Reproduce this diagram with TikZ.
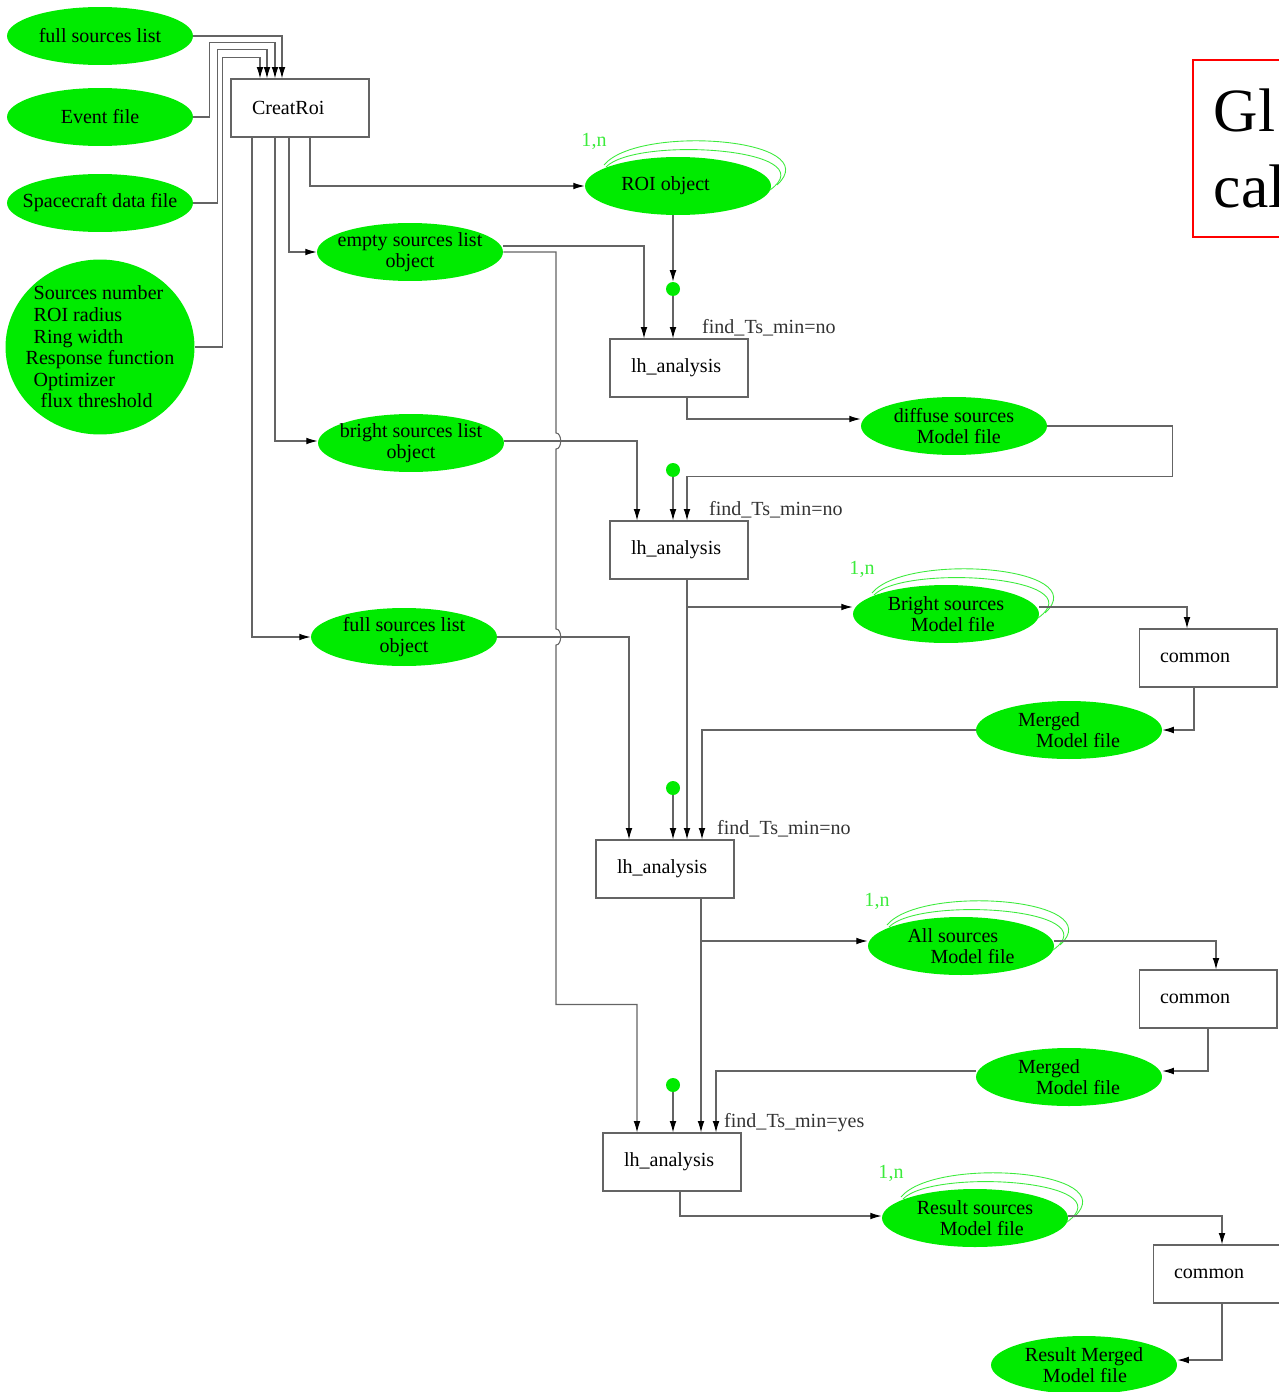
\documentclass[tikz,border=0pt]{standalone}
\usepackage{fontspec}
\setmainfont{Liberation Serif}
\usetikzlibrary{shapes.geometric,arrows.meta}
\definecolor{nodegreen}{RGB}{0,235,0}
\definecolor{loopgreen}{RGB}{60,235,60}
\definecolor{edgegray}{RGB}{100,100,100}
\tikzset{
  every node/.style={font=\fontsize{11.4}{12.3}\selectfont},
  datafile/.style={ellipse, fill=nodegreen, minimum width=3.72cm, minimum height=1.16cm, inner xsep=-0.3cm, inner ysep=-0.1cm, align=center},
  procbox/.style={draw=edgegray, line width=0.6pt, minimum width=2.76cm, minimum height=1.16cm, text width=1.92cm, inner xsep=0.42cm, align=left},
  flow/.style={draw=edgegray, line width=0.6pt, -{Latex[length=6.5pt,width=3.8pt,color=black]}},
  gdot/.style={circle, fill=nodegreen, inner sep=0pt, minimum size=0.28cm},
  mult/.style={text=loopgreen},
  loopline/.style={draw=loopgreen, line width=0.5pt},
  tslabel/.style={anchor=base west, text=black!80},
  note/.style={draw=red, line width=1.1pt, font=\fontsize{35}{43}\selectfont, text width=4cm, inner xsep=0.42cm, align=left, minimum height=3.54cm}
}
\begin{document}
\begin{tikzpicture}[x=0.02cm,y=-0.02cm]
\useasboundingbox (0,0) rectangle (1278,1392);
% inputs
\node[datafile] (fsl) at (100,36) {full sources list};
\node[datafile] (ev) at (100,117) {Event file};
\node[datafile] (sc) at (100,203) {Spacecraft data file};
\node[datafile, minimum width=3.78cm, minimum height=3.5cm, align=left] (par) at (100,347) {\hspace*{0.16cm}Sources number\\\hspace*{0.16cm}ROI radius\\\hspace*{0.16cm}Ring width\\Response function\\\hspace*{0.16cm}Optimizer\\\hspace*{0.3cm}flux threshold};
\node[procbox] (creat) at (300,108) {CreatRoi};
% objects
\node[datafile] (roi) at (678,186) {ROI object\hspace*{0.5cm}};
\node[datafile] (esl) at (410,252) {empty sources list\\object};
\node[datafile] (bsl) at (411,443) {bright sources list\\object};
\node[datafile] (fslo) at (404,637) {full sources list\\object};
% analysis chain
\node[gdot] (dot1) at (673,289) {};
\node[procbox] (lh1) at (679,368) {lh\_analysis};
\node[datafile, align=left] (diff) at (954,426) {diffuse sources\\\hspace*{0.46cm}Model file};
\node[gdot] (dot2) at (673,470) {};
\node[procbox] (lh2) at (679,550) {lh\_analysis};
\node[datafile, align=left] (bsmf) at (946,614) {Bright sources\\\hspace*{0.46cm}Model file};
\node[procbox] (com1) at (1208,658) {common};
\node[datafile, align=left] (mer1) at (1069,730) {Merged\\\hspace*{0.36cm}Model file};
\node[gdot] (dot3) at (673,788) {};
\node[procbox] (lh3) at (665,869) {lh\_analysis};
\node[datafile, align=left] (asmf) at (961,946) {All sources\\\hspace*{0.46cm}Model file};
\node[procbox] (com2) at (1208,999) {common};
\node[datafile, align=left] (mer2) at (1069,1077) {Merged\\\hspace*{0.36cm}Model file};
\node[gdot] (dot4) at (673,1085) {};
\node[procbox] (lh4) at (672,1162) {lh\_analysis};
\node[datafile, align=left] (rsmf) at (975,1218) {Result sources\\\hspace*{0.46cm}Model file};
\node[procbox] (com3) at (1222,1274) {common};
\node[datafile, align=left] (rmer) at (1084,1365) {Result Merged\\\hspace*{0.36cm}Model file};
% edge labels
\node[tslabel] (ts1) at ([shift={(17,-5)}]lh1.north) {find\_Ts\_min=no};
\node[tslabel] (ts2) at ([shift={(24,-5)}]lh2.north) {find\_Ts\_min=no};
\node[tslabel] (ts3) at ([shift={(46,-5)}]lh3.north) {find\_Ts\_min=no};
\node[tslabel] (ts4) at ([shift={(46,-5)}]lh4.north) {find\_Ts\_min=yes};
% repeated models
\foreach \n in {roi,bsmf,asmf,rsmf} {
  \draw[loopline, shift={(\n.center)}] (-74,-21) .. controls (-40,-62) and (150,-48) .. (99,-1);
  \draw[loopline, shift={(\n.center)}] (-72,-19) .. controls (-42,-50) and (150,-38) .. (92,4);
  \node[mult] (\n-rep) at ([shift={(-84,-45)}]\n.center) {1,n};
}
% inputs to CreatRoi
\draw[flow] (fsl.east) -| ([shift={(-18,0)}]creat.north);
\draw[flow] (ev.east) -- ++(16,0) |- ([shift={(-25,-36)}]creat.north) -- ([shift={(-25,0)}]creat.north);
\draw[flow] (sc.east) -- ++(24,0) |- ([shift={(-33,-29)}]creat.north) -- ([shift={(-33,0)}]creat.north);
\draw[flow] (par.east) -- ++(28,0) |- ([shift={(-40,-21)}]creat.north) -- ([shift={(-40,0)}]creat.north);
% CreatRoi outputs
\draw[flow] ([shift={(-48,0)}]creat.south) |- (fslo.west);
\draw[flow] ([shift={(-25,0)}]creat.south) |- ([shift={(0,-2)}]bsl.west);
\draw[flow] ([shift={(-11,0)}]creat.south) |- (esl.west);
\draw[flow] ([shift={(10,0)}]creat.south) |- (roi.west);
% first pass
\draw[flow] (dot1 |- roi.south) -- (dot1.north);
\draw[flow] (dot1.south) -- (dot1.south |- lh1.north);
\draw[flow] ([shift={(0,-6)}]esl.east) -| ([shift={(-35,0)}]lh1.north);
\coordinate (hopa) at (556,441);
\coordinate (hopb) at (556,637);
\draw[flow] (esl.east) -| ([shift={(0,-8)}]hopa) to[out=0,in=0] ([shift={(0,8)}]hopa)
  -- ([shift={(0,-8)}]hopb) to[out=0,in=0] ([shift={(0,8)}]hopb)
  |- ([shift={(-35,-128)}]lh4.north) -- ([shift={(-35,0)}]lh4.north);
\draw[flow] ([shift={(8,0)}]lh1.south) |- ([shift={(0,-7)}]diff.west);
% second pass
\draw[flow] ([shift={(0,-2)}]bsl.east) -| ([shift={(-42,0)}]lh2.north);
\draw[flow] (dot2.south) -- (dot2.south |- lh2.north);
\draw[flow] (diff.east) -- ++(125,0) |- ([shift={(8,-44)}]lh2.north) -- ([shift={(8,0)}]lh2.north);
\draw[flow] ([shift={(8,0)}]lh2.south) |- ([shift={(0,-7)}]bsmf.west);
\draw[flow] ([shift={(0,-7)}]bsmf.east) -| ([shift={(-21,0)}]com1.north);
\draw[flow] ([shift={(-14,0)}]com1.south) |- (mer1.east);
% third pass
\draw[flow] ([shift={(8,0)}]lh2.south) -- ([shift={(22,0)}]lh3.north);
\draw[flow] (fslo.east) -| ([shift={(-36,0)}]lh3.north);
\draw[flow] (dot3.south) -- (dot3.south |- lh3.north);
\draw[flow] (mer1.west) -| ([shift={(37,0)}]lh3.north);
\draw[flow] ([shift={(36,0)}]lh3.south) |- ([shift={(0,-5)}]asmf.west);
\draw[flow] ([shift={(0,-5)}]asmf.east) -| ([shift={(8,0)}]com2.north);
\draw[flow] (com2.south) |- ([shift={(0,-6)}]mer2.east);
% last pass
\draw[flow] ([shift={(36,0)}]lh3.south) -- ([shift={(29,0)}]lh4.north);
\draw[flow] (dot4.south) -- (dot4.south |- lh4.north);
\draw[flow] ([shift={(0,-6)}]mer2.west) -| ([shift={(44,0)}]lh4.north);
\draw[flow] ([shift={(8,0)}]lh4.south) |- ([shift={(0,-2)}]rsmf.west);
\draw[flow] ([shift={(0,-2)}]rsmf.east) -| (com3.north);
\draw[flow] (com3.south) |- ([shift={(0,-5)}]rmer.east);
% note
\node[note, anchor=north west] (gl) at (1192,59) {Gl\\cal};
\end{tikzpicture}
\end{document}
